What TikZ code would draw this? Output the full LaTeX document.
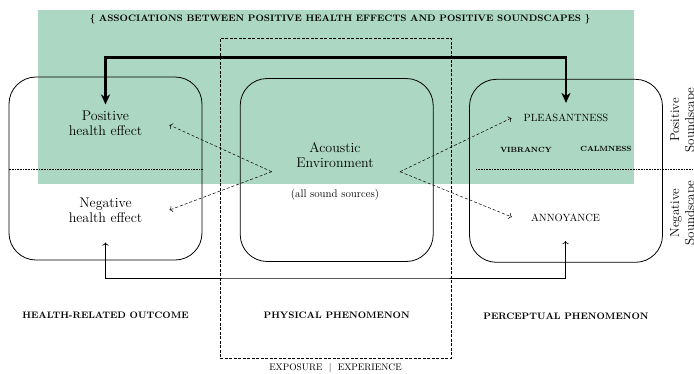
\documentclass[tikz,border=0pt]{standalone}
\usepackage{tikz}
\usetikzlibrary{arrows.meta,positioning}
\definecolor{soundgreen}{RGB}{172,215,195}

\begin{document}
\begin{tikzpicture}[x=1pt, y=-1pt,
  region/.style={draw, rounded corners=27pt, line width=0.8pt,
    minimum width=193pt, minimum height=183pt},
  effect/.style={align=center, font=\fontsize{14}{15}\selectfont, inner sep=2pt},
  rating/.style={font=\fontsize{10.5}{12}\selectfont, inner sep=2pt},
  attr/.style={font=\bfseries\fontsize{7.5}{9}\selectfont, inner sep=2pt},
  caption/.style={font=\bfseries\fontsize{9.4}{11}\selectfont, inner sep=2pt},
  side/.style={rotate=90, anchor=north, align=center,
    font=\fontsize{13}{15}\selectfont, inner sep=0pt},
  hint/.style={line width=0.5pt, dash pattern=on 3pt off 2pt, -{To[length=3pt]}},
  link/.style={line width=2.4pt,
    {Stealth[length=10pt,width=9pt,inset=3pt]}-{Stealth[length=10pt,width=9pt,inset=3pt]}},
  loop/.style={line width=0.6pt, {To[length=3pt]}-{To[length=3pt]}}
]
  \useasboundingbox (0,0) rectangle (694,373);
  \fill[soundgreen] (38.3,10) rectangle (634.3,183.5);
  \node[caption] (title) at (340,19)
    {\{ ASSOCIATIONS BETWEEN POSITIVE HEALTH EFFECTS AND POSITIVE SOUNDSCAPES \}};

  % exposure frame and the three domains
  \node[draw, line width=0.6pt, dash pattern=on 3pt off 1.5pt,
    minimum width=231pt, minimum height=320pt] (exposure) at (335.5,198.3) {};
  \node[region] (health) at (105.5,168.5) {};
  \node[region] (physical) at (336.7,170) {};
  \node[region] (perceptual) at (566,170.8) {};
  \draw[line width=0.6pt, densely dotted] (health.west |- 0,169.3) -- (health.east |- 0,169.3);
  \draw[line width=0.6pt, densely dotted] (476,169.3) -- (694,169.3);

  % texts
  \node[effect] (pos) at (105.5,123) {Positive\\health effect};
  \node[effect] (neg) at (105.5,210) {Negative\\health effect};
  \node[effect] (acoustic) at (335,155) {Acoustic\\Environment};
  \node[font=\fontsize{11}{13}\selectfont, inner sep=2pt] (sources) at (335,195) {(all sound sources)};
  \node[rating] (pleas) at (566,118) {PLEASANTNESS};
  \node[attr] (vibrancy) at (526,150) {VIBRANCY};
  \node[attr] (calmness) at (606,149) {CALMNESS};
  \node[rating] (annoy) at (565.5,218) {ANNOYANCE};
  \node[side] (positive) at (670,120) {Positive\\Soundscape};
  \node[side] (negative) at (670,213) {Negative\\Soundscape};

  \node[caption, below=49pt of health] (outcome) {HEALTH-RELATED OUTCOME};
  \node[caption, below=48pt of physical] (phenomenon) {PHYSICAL PHENOMENON};
  \node[caption, below=48pt of perceptual] (perception) {PERCEPTUAL PHENOMENON};
  \node[font=\fontsize{9.5}{11}\selectfont, inner sep=2pt, below=3pt of exposure] (mode)
    {EXPOSURE\ \ |\ \ EXPERIENCE};

  % connectors
  \coordinate (bridge) at (336,57.5);
  \coordinate (ground) at (336,278);
  \coordinate (env-l) at (271.7,171.7);
  \coordinate (env-r) at (400,171.7);
  \draw[link] ([yshift=4pt]pos.north) |- (bridge) -| ([yshift=9pt]pleas.north);
  \draw[loop] ([yshift=-18pt]neg.south) |- (ground) -| ([yshift=-17pt]annoy.south);
  \draw[hint] (env-l) -- ([xshift=25pt,yshift=-2pt]pos.east);
  \draw[hint] (env-l) -- ([xshift=25pt]neg.east);
  \draw[hint] (env-r) -- ([xshift=-10pt]pleas.west);
  \draw[hint] (env-r) -- ([xshift=-17pt,yshift=1pt]annoy.west);
\end{tikzpicture}
\end{document}
